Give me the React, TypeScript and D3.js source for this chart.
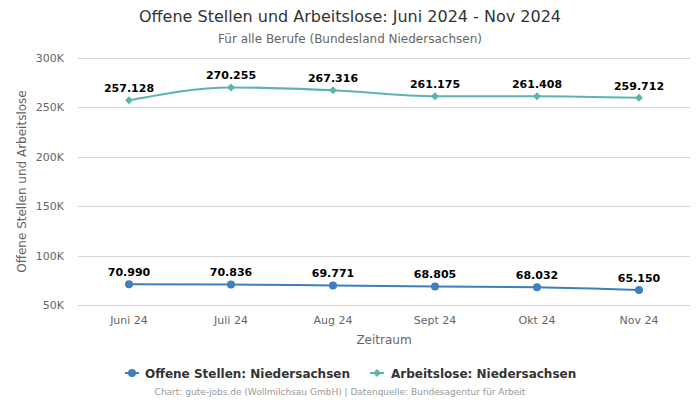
import React from "react";
import * as d3 from "d3";

const categories = ["Juni 24", "Juli 24", "Aug 24", "Sept 24", "Okt 24", "Nov 24"];
const offeneStellen = [70990, 70836, 69771, 68805, 68032, 65150];
const arbeitslose = [257128, 270255, 267316, 261175, 261408, 259712];
const yTicks = [50000, 100000, 150000, 200000, 250000, 300000];
const seriesNames = ["Offene Stellen: Niedersachsen", "Arbeitslose: Niedersachsen"];
const colors = ["#3d7fbf", "#5bb5ae"];

const W = 700, H = 400;
const left = 78, right = 690, top = 58, bottom = 305;
const font = "DejaVu Sans, sans-serif";

const fmt = (v: number) => d3.format(",")(v).replace(/,/g, ".");

export default function App() {
  const x = d3.scaleBand<string>().domain(categories).range([left, right]);
  const y = d3.scaleLinear().domain([50000, 300000]).range([bottom, top]);
  const cx = (c: string) => (x(c) as number) + x.bandwidth() / 2;
  const line = d3
    .line<number>()
    .x((_, i) => cx(categories[i]))
    .y((d) => y(d))
    .curve(d3.curveMonotoneX);

  const series = [offeneStellen, arbeitslose];

  const diamond = (px: number, py: number, r: number) =>
    `M${px},${py - r}L${px + r},${py}L${px},${py + r}L${px - r},${py}Z`;

  return (
    <svg width={W} height={H} style={{ position: "absolute", left: 0, top: 0, fontFamily: font }}>
      <rect width={W} height={H} fill="#fff" />
      <text x={350} y={22} textAnchor="middle" fontSize={16} fill="#333">
        Offene Stellen und Arbeitslose: Juni 2024 - Nov 2024
      </text>
      <text x={350} y={43} textAnchor="middle" fontSize={12} fill="#666">
        Für alle Berufe (Bundesland Niedersachsen)
      </text>
      {yTicks.map((t) => (
        <g key={t}>
          <line
            x1={left}
            x2={right}
            y1={Math.round(y(t)) + 0.5}
            y2={Math.round(y(t)) + 0.5}
            stroke={t === 50000 ? "#ccd6eb" : "#d6d6d6"}
            strokeWidth={1}
          />
          <text x={64} y={y(t) + 4} textAnchor="end" fontSize={11} fill="#666">
            {t / 1000}K
          </text>
        </g>
      ))}
      <text
        transform={`translate(26,${(top + bottom) / 2}) rotate(-90)`}
        textAnchor="middle"
        fontSize={12}
        fill="#666"
      >
        Offene Stellen und Arbeitslose
      </text>
      {categories.map((c) => (
        <text key={c} x={cx(c)} y={324} textAnchor="middle" fontSize={11} fill="#666">
          {c}
        </text>
      ))}
      <text x={(left + right) / 2} y={344} textAnchor="middle" fontSize={12} fill="#666">
        Zeitraum
      </text>
      {series.map((s, si) => (
        <g key={si}>
          <path d={line(s) || ""} fill="none" stroke={colors[si]} strokeWidth={2} />
          {s.map((v, i) =>
            si === 0 ? (
              <circle key={i} cx={cx(categories[i])} cy={y(v)} r={4} fill={colors[si]} />
            ) : (
              <path key={i} d={diamond(cx(categories[i]), y(v), 4)} fill={colors[si]} />
            )
          )}
          {s.map((v, i) => (
            <text
              key={"l" + i}
              x={cx(categories[i])}
              y={y(v) - 8}
              textAnchor="middle"
              fontSize={11}
              fontWeight="bold"
              fill="#000"
              stroke="#fff"
              strokeWidth={3}
              strokeLinejoin="round"
              paintOrder="stroke"
            >
              {fmt(v)}
            </text>
          ))}
        </g>
      ))}
      <g>
        <line x1={125} x2={139} y1={373} y2={373} stroke={colors[0]} strokeWidth={2} />
        <circle cx={132} cy={373} r={4} fill={colors[0]} />
        <text x={145} y={377.5} fontSize={12} fontWeight="bold" fill="#333">
          {seriesNames[0]}
        </text>
        <line x1={370} x2={384} y1={373} y2={373} stroke={colors[1]} strokeWidth={2} />
        <path d={diamond(377, 373, 4)} fill={colors[1]} />
        <text x={391} y={377.5} fontSize={12} fontWeight="bold" fill="#333">
          {seriesNames[1]}
        </text>
      </g>
      <text x={340} y={395} textAnchor="middle" fontSize={9} fill="#999">
        Chart: gute-jobs.de (Wollmilchsau GmbH) | Datenquelle: Bundesagentur für Arbeit
      </text>
    </svg>
  );
}
